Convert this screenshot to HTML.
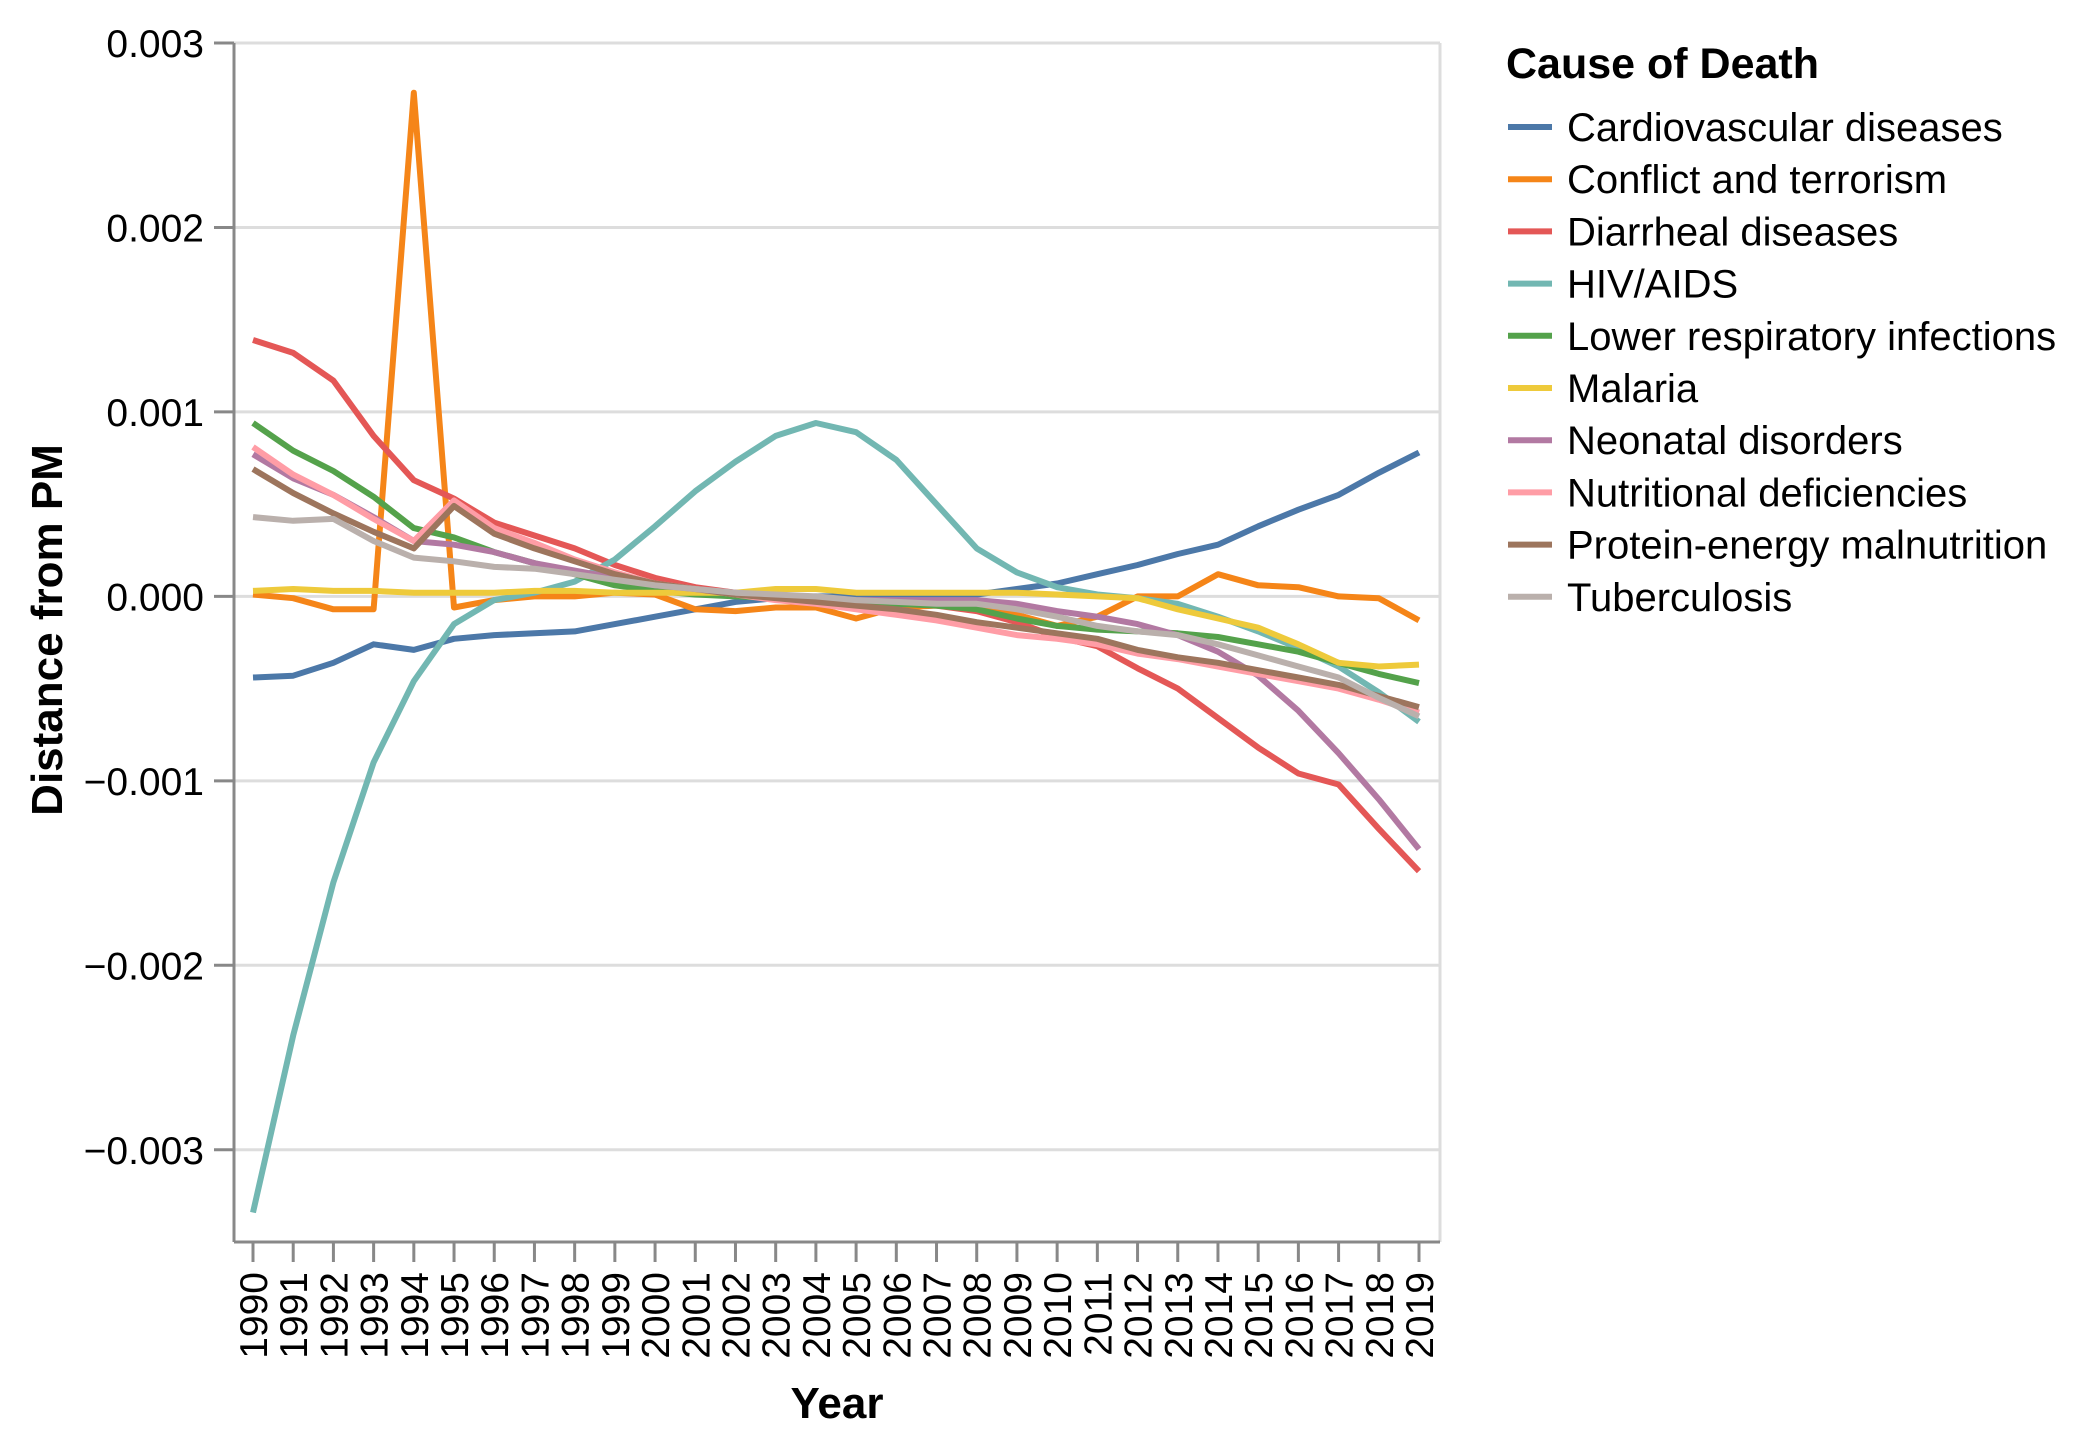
<!DOCTYPE html>
<html><head><meta charset="utf-8"><style>
body{margin:0;background:#fff;}
svg text{font-family:"Liberation Sans",Arial,sans-serif;}
</style></head><body>
<svg id="chart" width="2080" height="1440" xmlns="http://www.w3.org/2000/svg">
<g id="grid"></g>
<g id="axes"></g>
<g id="lines"></g>
<g id="legend"></g>
</svg>
<script>
const years = [];
for (let y = 1990; y <= 2019; y++) years.push(y);
const seriesNames = ["Cardiovascular diseases","Conflict and terrorism","Diarrheal diseases","HIV/AIDS","Lower respiratory infections","Malaria","Neonatal disorders","Nutritional deficiencies","Protein-energy malnutrition","Tuberculosis"];
const seriesColors = ["#4c78a8","#f58518","#e45756","#72b7b2","#54a24b","#eeca3b","#b279a2","#ff9da6","#9d755d","#bab0ac"];
const cardio = [-0.44,-0.43,-0.36,-0.26,-0.29,-0.23,-0.21,-0.20,-0.19,-0.15,-0.11,-0.07,-0.03,-0.01,0.0,0.0,0.0,0.0,0.01,0.04,0.07,0.12,0.17,0.23,0.28,0.38,0.47,0.55,0.67,0.78];
const conflict = [0.01,-0.01,-0.07,-0.07,2.73,-0.06,-0.02,0.0,0.0,0.02,0.01,-0.07,-0.08,-0.06,-0.06,-0.12,-0.06,-0.05,-0.05,-0.10,-0.16,-0.11,0.0,0.0,0.12,0.06,0.05,0.0,-0.01,-0.13];
const diarrheal = [1.39,1.32,1.17,0.87,0.63,0.53,0.40,0.33,0.26,0.17,0.10,0.05,0.02,0.0,-0.02,-0.03,-0.04,-0.05,-0.08,-0.14,-0.22,-0.27,-0.39,-0.50,-0.66,-0.82,-0.96,-1.02,-1.26,-1.49];
const hiv = [-3.34,-2.38,-1.55,-0.90,-0.46,-0.15,-0.02,0.02,0.08,0.20,0.38,0.57,0.73,0.87,0.94,0.89,0.74,0.50,0.26,0.13,0.05,0.01,-0.01,-0.04,-0.11,-0.19,-0.28,-0.38,-0.52,-0.68];
const lri = [0.94,0.79,0.68,0.54,0.37,0.32,0.24,0.18,0.12,0.06,0.03,0.01,0.0,-0.01,-0.02,-0.03,-0.04,-0.05,-0.07,-0.12,-0.16,-0.18,-0.19,-0.20,-0.22,-0.26,-0.30,-0.36,-0.42,-0.47];
const malaria = [0.03,0.04,0.03,0.03,0.02,0.02,0.02,0.03,0.03,0.02,0.02,0.02,0.02,0.04,0.04,0.02,0.02,0.02,0.02,0.02,0.01,0.0,-0.01,-0.07,-0.12,-0.17,-0.26,-0.36,-0.38,-0.37];
const neonatal = [0.77,0.64,0.55,0.43,0.30,0.28,0.24,0.18,0.14,0.10,0.06,0.04,0.02,0.0,-0.01,-0.02,-0.02,-0.02,-0.02,-0.04,-0.08,-0.11,-0.15,-0.21,-0.30,-0.43,-0.62,-0.85,-1.10,-1.37];
const nutritional = [0.81,0.66,0.55,0.42,0.30,0.52,0.37,0.29,0.20,0.13,0.07,0.04,0.01,-0.02,-0.04,-0.07,-0.10,-0.13,-0.17,-0.21,-0.23,-0.26,-0.31,-0.34,-0.38,-0.42,-0.46,-0.50,-0.56,-0.63];
const protein = [0.69,0.56,0.45,0.35,0.26,0.49,0.34,0.26,0.19,0.12,0.07,0.04,0.01,-0.01,-0.03,-0.05,-0.07,-0.10,-0.14,-0.17,-0.20,-0.23,-0.29,-0.33,-0.36,-0.40,-0.44,-0.48,-0.54,-0.60];
const tb = [0.43,0.41,0.42,0.30,0.21,0.19,0.16,0.15,0.12,0.09,0.06,0.04,0.02,0.01,0.0,-0.02,-0.03,-0.04,-0.04,-0.07,-0.11,-0.16,-0.19,-0.21,-0.26,-0.32,-0.38,-0.44,-0.55,-0.65];
const yTicks = [0.003,0.002,0.001,0,-0.001,-0.002,-0.003];
const yTickLabels = ["0.003","0.002","0.001","0.000","−0.001","−0.002","−0.003"];

const allSeries = [cardio,conflict,diarrheal,hiv,lri,malaria,neonatal,nutritional,protein,tb];
const NS="http://www.w3.org/2000/svg";
const L=234,R=1440,T=43,B=1242;
const yMax=0.003,yMin=-0.0035;
function xs(i){return 253 + i*(1419-253)/(years.length-1);}
function ys(v){return T + (yMax-v)/(yMax-yMin)*(B-T);}
function el(tag,attrs,parent,text){const e=document.createElementNS(NS,tag);for(const k in attrs)e.setAttribute(k,attrs[k]);if(text!==undefined)e.textContent=text;parent.appendChild(e);return e;}
const grid=document.getElementById('grid'),axes=document.getElementById('axes'),lines=document.getElementById('lines'),legend=document.getElementById('legend');

yTicks.forEach((t,i)=>{
  const g=el('line',{x1:L,x2:R,y1:ys(t),y2:ys(t),stroke:'#ddd','stroke-width':3},grid);
  
  
  const tk=el('line',{x1:L-20,x2:L,y1:ys(t),y2:ys(t),stroke:'#888','stroke-width':3},axes);
  
  
  const lb=el('text',{x:204,y:ys(t)+14,'text-anchor':'end','font-size':39,fill:'#000'},axes,yTickLabels[i]);
  
  
});
const rb=el('line',{x1:R,x2:R,y1:T,y2:B,stroke:'#ddd','stroke-width':3},grid);


const tb2=el('line',{x1:L,x2:R,y1:T,y2:T,stroke:'#ddd','stroke-width':3},grid);



const ya=el('line',{x1:L,x2:L,y1:T,y2:B,stroke:'#888','stroke-width':3},axes);


const xa=el('line',{x1:L,x2:R,y1:B,y2:B,stroke:'#888','stroke-width':3},axes);


years.forEach((yr,i)=>{
  const tk=el('line',{x1:xs(i),x2:xs(i),y1:B,y2:B+20,stroke:'#888','stroke-width':3},axes);
  
  
  const lb=el('text',{x:0,y:0,'text-anchor':'end','font-size':39,fill:'#000',transform:`translate(${xs(i)+14},${B+30}) rotate(-90)`},axes,String(yr));
  
  
});
const yt=el('text',{x:0,y:0,'text-anchor':'middle','font-size':44,'font-weight':'bold',fill:'#000',transform:`translate(62,630) rotate(-90)`},axes,'Distance from PM');


const xt=el('text',{x:837,y:1418,'text-anchor':'middle','font-size':44,'font-weight':'bold',fill:'#000'},axes,'Year');



allSeries.forEach((s,k)=>{
  const d=s.map((v,i)=>(i?'L':'M')+xs(i).toFixed(1)+','+ys(v/1000).toFixed(1)).join(' ');
  const p=el('path',{d:d,fill:'none',stroke:seriesColors[k],'stroke-width':6,'stroke-linejoin':'round'},lines);
  
  
});

const lt=el('text',{x:1506,y:78,'font-size':43,'font-weight':'bold',fill:'#000'},legend,'Cause of Death');


seriesNames.forEach((n,k)=>{
  const y=127+52.2*k;
  const g=el('g',{},legend);
  
  
  el('line',{x1:1508,x2:1552,y1:y,y2:y,stroke:seriesColors[k],'stroke-width':6},g);
  el('text',{x:1567,y:y+14,'font-size':40,fill:'#000'},g,n);
});
</script>
</body></html>
